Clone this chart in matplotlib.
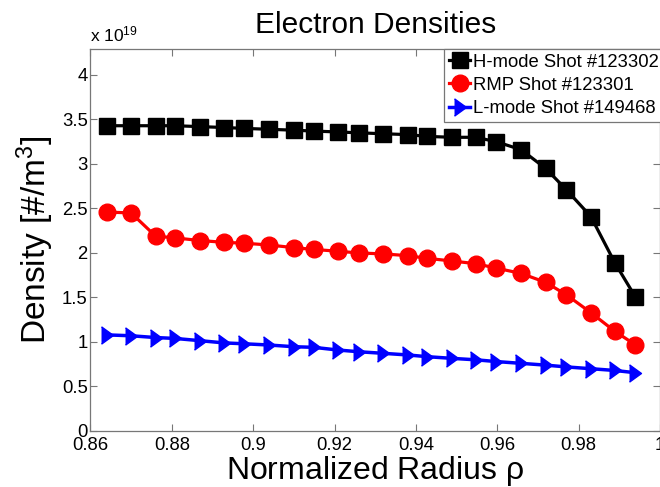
import matplotlib
matplotlib.use('Agg')
import matplotlib.pyplot as plt

plt.rcParams['font.family'] = ['Liberation Sans', 'DejaVu Sans']

# radius grid (same for all three shots)
rho = [0.8640, 0.8700, 0.8760, 0.8808, 0.8869, 0.8928, 0.8978, 0.9039,
       0.9100, 0.9149, 0.9208, 0.9261, 0.9319, 0.9381, 0.9428, 0.9489,
       0.9547, 0.9598, 0.9659, 0.9719, 0.9770, 0.9830, 0.9889, 0.9939]

# densities in units of 1e19 m^-3
hmode = [3.43, 3.43, 3.43, 3.43, 3.42, 3.41, 3.40, 3.39,
         3.38, 3.37, 3.36, 3.35, 3.34, 3.33, 3.31, 3.30,
         3.30, 3.25, 3.16, 2.95, 2.71, 2.41, 1.89, 1.51]
rmp = [2.46, 2.45, 2.19, 2.17, 2.14, 2.12, 2.11, 2.09,
       2.06, 2.04, 2.02, 2.00, 1.99, 1.97, 1.94, 1.91,
       1.88, 1.83, 1.77, 1.67, 1.53, 1.33, 1.12, 0.97]
lmode = [1.08, 1.07, 1.05, 1.04, 1.015, 0.99, 0.98, 0.966,
         0.947, 0.94, 0.91, 0.89, 0.873, 0.854, 0.835, 0.816,
         0.80, 0.78, 0.76, 0.74, 0.72, 0.70, 0.68, 0.655]

labels = ['H-mode Shot #123302', 'RMP Shot #123301', 'L-mode Shot #149468']

xticks = [0.86, 0.88, 0.9, 0.92, 0.94, 0.96, 0.98, 1.0]
xticklabels = ['0.86', '0.88', '0.9', '0.92', '0.94', '0.96', '0.98', '1']
yticks = [0, 0.5, 1, 1.5, 2, 2.5, 3, 3.5, 4]
yticklabels = ['0', '0.5', '1', '1.5', '2', '2.5', '3', '3.5', '4']

tri = [(-0.69, -1), (0.69, 0), (-0.69, 1)]

fig = plt.figure(figsize=(6.6, 4.87), dpi=100)
ax = fig.add_axes([0.137, 0.115, 0.863, 0.784])

ax.plot(rho, hmode, color='black', lw=2.3, marker='s', ms=11, label=labels[0])
ax.plot(rho, rmp, color='red', lw=2.3, marker='o', ms=12, label=labels[1])
ax.plot(rho, lmode, color='blue', lw=2.5, marker=tri, ms=12.5, label=labels[2])

ax.set_xlim(0.86, 1.0)
ax.set_ylim(0, 4.29)
ax.set_xticks(xticks)
ax.set_xticklabels(xticklabels)
ax.set_yticks(yticks)
ax.set_yticklabels(yticklabels)
ax.tick_params(direction='in', length=5, width=0.8, color='#777777',
               labelsize=13.3, top=True, right=True)
ax.tick_params(axis='x', pad=4)
ax.tick_params(axis='y', pad=2)
for s in ax.spines.values():
    s.set_color('#777777')
    s.set_linewidth(0.9)

ax.set_title('Electron Densities', fontsize=21.5, pad=12)
ax.set_xlabel(r'Normalized Radius $\mathregular{\rho}$', fontsize=23, labelpad=0)
ax.set_ylabel(r'Density [#/m$\mathregular{^3}$]', fontsize=24)
ax.yaxis.set_label_coords(-0.06, 0.5)
ax.text(0.0, 1.012, r'x 10$\mathregular{^{19}}$', transform=ax.transAxes,
        fontsize=12.5, ha='left', va='bottom')

leg = ax.legend(loc='upper right', fontsize=13.3, handlelength=1.15,
                handletextpad=0.15, borderpad=0.25, labelspacing=0.33,
                borderaxespad=0, fancybox=False, framealpha=1,
                bbox_to_anchor=(1.006, 1.0))
leg.get_frame().set_edgecolor('#777777')
leg.get_frame().set_linewidth(0.9)

fig.savefig('out.png', dpi=100)
